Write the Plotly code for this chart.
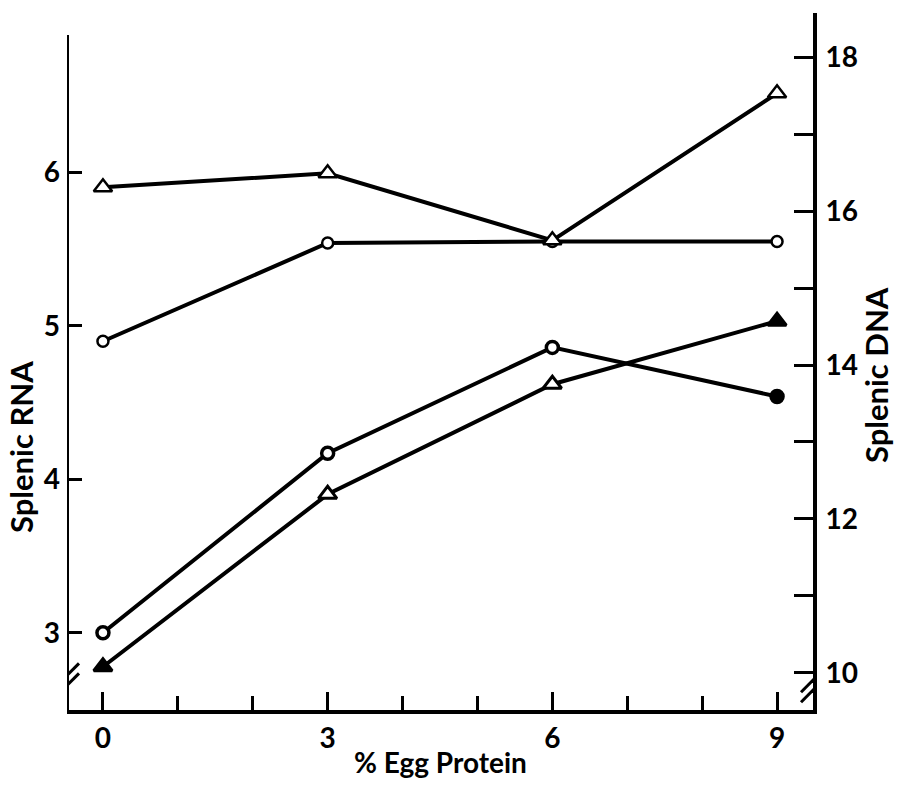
import plotly.graph_objects as go

# % egg protein in diet
egg_protein = [0, 3, 6, 9]

# Splenic RNA (left axis) - circles
rna_open = [4.90, 5.54, 5.55, 5.55]
rna_low = [3.00, 4.17, 4.86, 4.54]
# Splenic DNA (right axis) - triangles
dna_open = [16.31, 16.49, 15.62, 17.53]
dna_low = [10.08, 12.32, 13.75, 14.57]

# marker fill per point as printed (white = hollow, black = solid)
rna_open_fill = ["white", "white", "white", "white"]
rna_low_fill = ["white", "white", "white", "black"]
dna_open_fill = ["white", "white", "white", "white"]
dna_low_fill = ["black", "white", "white", "black"]

x_ticks_major = [0, 3, 6, 9]
x_ticks_minor = [1, 2, 4, 5, 7, 8]
rna_ticks = [3, 4, 5, 6]
dna_ticks = [10, 12, 14, 16, 18]
dna_ticks_minor = [11, 13, 15, 17]

X_RANGE = [-0.48, 9.48]
RNA_RANGE = [2.497, 7.039]
DNA_RANGE = [9.518, 18.573]

FONT = "Lato"
LW = 4

fig = go.Figure()

def add_series(y, fills, symbol, size, lwidth, axis):
    fig.add_trace(go.Scatter(
        x=egg_protein, y=y, mode="lines+markers", yaxis=axis,
        line=dict(color="black", width=LW),
        marker=dict(symbol=symbol, size=size, color=fills,
                    line=dict(color="black", width=lwidth)),
        showlegend=False, cliponaxis=False,
    ))

add_series(dna_open, dna_open_fill, "triangle-up", 16, 2.5, "y2")
add_series(rna_open, rna_open_fill, "circle", 11, 2.5, "y")
add_series(dna_low, dna_low_fill, "triangle-up", 16, 3, "y2")
add_series(rna_low, rna_low_fill, "circle", 12, 3.5, "y")

tickfont = dict(family=FONT, size=28, color="black", weight=700)

fig.update_layout(
    width=898, height=785,
    margin=dict(l=67, r=85, t=13, b=75),
    paper_bgcolor="white", plot_bgcolor="white",
    font=dict(family=FONT, color="black"),
    xaxis=dict(
        range=X_RANGE, showgrid=False, zeroline=False,
        showline=True, linecolor="black", linewidth=LW,
        tickmode="array", tickvals=x_ticks_major,
        ticktext=[str(v) for v in x_ticks_major],
        ticks="inside", ticklen=18, tickwidth=3, tickcolor="black",
        tickfont=tickfont,
        minor=dict(tickmode="array", tickvals=x_ticks_minor, ticks="inside",
                   ticklen=14, tickwidth=3, tickcolor="black", showgrid=False),
    ),
    yaxis=dict(
        range=RNA_RANGE, showgrid=False, zeroline=False, showline=False,
        tickmode="array", tickvals=rna_ticks,
        ticktext=[str(v) for v in rna_ticks],
        ticks="inside", ticklen=15, tickwidth=3, tickcolor="black",
        tickfont=tickfont, ticklabelstandoff=6,
    ),
    yaxis2=dict(
        range=DNA_RANGE, overlaying="y", side="right",
        showgrid=False, zeroline=False,
        showline=True, linecolor="black", linewidth=LW,
        tickmode="array", tickvals=dna_ticks,
        ticktext=[str(v) for v in dna_ticks],
        ticks="inside", ticklen=19, tickwidth=3, tickcolor="black",
        tickfont=tickfont, ticklabelstandoff=3,
        minor=dict(tickmode="array", tickvals=dna_ticks_minor, ticks="inside",
                   ticklen=19, tickwidth=3, tickcolor="black", showgrid=False),
    ),
)

# left axis line (stops short of the top)
fig.add_shape(type="line", xref="x", yref="y",
              x0=X_RANGE[0], x1=X_RANGE[0], y0=RNA_RANGE[0], y1=6.895,
              line=dict(color="black", width=LW))

# axis break marks
for xa, ya, yr in [(X_RANGE[0], 2.69, "y"), (X_RANGE[1], 9.84, "y2")]:
    for off in (-5, 5):
        fig.add_shape(type="line", xref="x", yref=yr,
                      xsizemode="pixel", ysizemode="pixel",
                      xanchor=xa, yanchor=ya,
                      x0=-12, x1=12, y0=-12 + off, y1=12 + off,
                      line=dict(color="black", width=3))

# axis titles
titlefont_y = dict(family=FONT, size=31, color="black", weight=700)
fig.add_annotation(text="Splenic RNA", xref="paper", yref="paper",
                   x=-0.062, y=0.377, textangle=-90, showarrow=False,
                   xanchor="center", yanchor="middle", font=titlefont_y)
fig.add_annotation(text="Splenic DNA", xref="paper", yref="paper",
                   x=1.0845, y=0.4806, textangle=-90, showarrow=False,
                   xanchor="center", yanchor="middle", font=titlefont_y)
fig.add_annotation(text="% Egg Protein", xref="paper", yref="paper",
                   x=0.5, y=-0.074, showarrow=False,
                   xanchor="center", yanchor="middle",
                   font=dict(family=FONT, size=28, color="black", weight=700))

fig.write_html("out.html")
